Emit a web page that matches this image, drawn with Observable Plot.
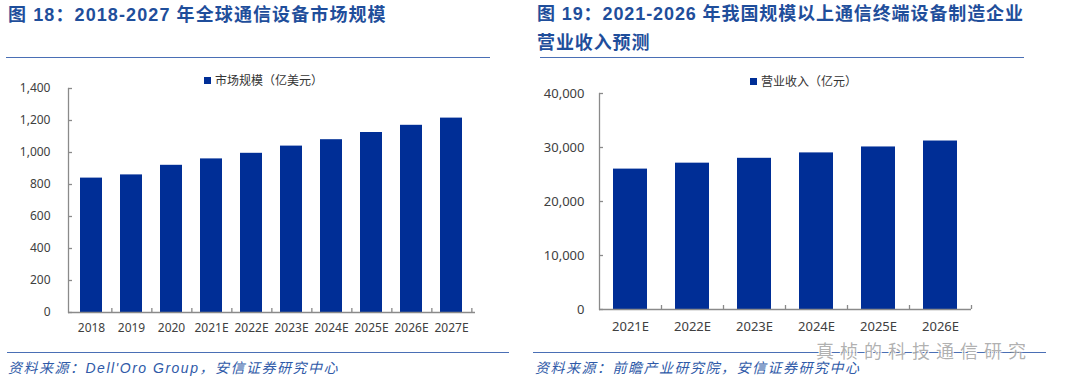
<!DOCTYPE html>
<html><head><meta charset="utf-8">
<script src="https://cdn.jsdelivr.net/npm/d3@7"></script>
<script src="https://cdn.jsdelivr.net/npm/@observablehq/plot@0.6"></script>
<style>
body{margin:0;background:#fff;width:1080px;height:388px;position:relative;overflow:hidden;font-family:"Noto Sans CJK SC",sans-serif}
.title{position:absolute;color:#1f4e9b;font-weight:bold;font-size:18px;font-family:"Liberation Sans","Noto Sans CJK SC",sans-serif;line-height:29px;white-space:nowrap;letter-spacing:1.1px}
.rule{position:absolute;height:0;border-top:1.5px solid #4a6fb5}
.src{position:absolute;color:#2f5aa8;font-style:italic;font-size:14px;letter-spacing:1.5px;white-space:nowrap;font-family:"Liberation Sans","Noto Sans CJK SC",sans-serif;line-height:18px}
.legend{position:absolute;font-size:12px;color:#333;white-space:nowrap;line-height:16px;font-family:"Noto Sans CJK SC",sans-serif}
.sw{display:inline-block;width:7px;height:7px;background:#002e96;margin-right:4px;vertical-align:1px}
.wm{position:absolute;font-size:18px;letter-spacing:6px;color:rgba(110,110,110,0.55);white-space:nowrap;font-family:"Noto Sans CJK SC",sans-serif;text-shadow:1px 1px 0 #fff,-1px -1px 0 #fff;line-height:18px}
.plot{position:absolute}
</style></head><body>
<div class="title" style="left:8px;top:1px">图 18：2018-2027 年全球通信设备市场规模</div>
<div class="title" style="left:537px;top:0px;letter-spacing:0.9px">图 19：2021-2026 年我国规模以上通信终端设备制造企业<br>营业收入预测</div>
<div class="rule" style="left:6px;width:484px;top:57px"></div>
<div class="rule" style="left:540px;width:484px;top:57px"></div>
<div class="legend" style="left:204px;top:72px"><span class="sw"></span>市场规模（亿美元）</div>
<div class="legend" style="left:750px;top:73px"><span class="sw"></span>营业收入（亿元）</div>
<div id="chartA" class="plot" style="left:0px;top:70px"></div>
<div id="chartB" class="plot" style="left:520px;top:70px"></div>
<div class="rule" style="left:7px;width:502px;top:352px"></div>
<div class="rule" style="left:533px;width:513px;top:352px"></div>
<div class="src" style="left:8px;top:359px">资料来源：Dell'Oro Group，安信证券研究中心</div>
<div class="src" style="left:535px;top:359px">资料来源：前瞻产业研究院，安信证券研究中心</div>
<div class="wm" style="left:816px;top:341px">真桢的科技通信研究</div>
<script>
const yearsA = ["2018","2019","2020","2021E","2022E","2023E","2024E","2025E","2026E","2027E"];
const marketA = [840,860,920,960,995,1040,1080,1125,1170,1215];
const ticksA = [0,200,400,600,800,1000,1200,1400];

const yearsB = ["2021E","2022E","2023E","2024E","2025E","2026E"];
const revenueB = [26000,27100,28000,29000,30100,31200];
const ticksB = [0,10000,20000,30000,40000];

const barColor = "#002e96";
const axisColor = "#8a8a8a";

function bars(cats, vals, yTicks, cfg) {
  const data = cats.map((c, i) => ({c, v: vals[i]}));
  const step = (cfg.width - cfg.marginLeft - cfg.marginRight) / cats.length;
  return Plot.plot({
    width: cfg.width, height: cfg.height,
    marginLeft: cfg.marginLeft, marginRight: cfg.marginRight,
    marginTop: cfg.marginTop, marginBottom: cfg.marginBottom,
    style: {fontFamily: '"Noto Sans", sans-serif', fontSize: cfg.fontSize + "px", color: "#404040", background: "transparent"},
    x: {domain: cats, paddingInner: cfg.pad, paddingOuter: cfg.pad / 2, align: 0.5, label: null},
    y: {domain: [0, yTicks[yTicks.length - 1]], label: null},
    marks: [
      Plot.barY(data, {x: "c", y: "v", fill: barColor}),
      Plot.axisY({ticks: yTicks, tickFormat: d3.format(","), tickSize: -4, tickPadding: cfg.yPad, stroke: axisColor, strokeWidth: 1.3, label: null}),
      Plot.axisX({tickSize: 0, tickPadding: cfg.xPad, label: null}),
      Plot.axisX({tickSize: -4, tickFormat: () => "", dx: step / 2, stroke: axisColor, strokeWidth: 1.3, label: null}),
      Plot.frame({anchor: "left", stroke: axisColor, strokeWidth: 1.3}),
      Plot.ruleY([0], {stroke: axisColor, strokeWidth: 1.3})
    ]
  });
}

document.getElementById("chartA").append(bars(yearsA, marketA, ticksA, {
  width: 500, height: 272, marginLeft: 68, marginRight: 25, marginTop: 18, marginBottom: 30,
  pad: 0.44, fontSize: 12, yPad: 22, xPad: 11
}));
document.getElementById("chartB").append(bars(yearsB, revenueB, ticksB, {
  width: 480, height: 272, marginLeft: 79, marginRight: 29, marginTop: 23, marginBottom: 33,
  pad: 0.45, fontSize: 13, yPad: 19, xPad: 12
}));
</script>
</body></html>
